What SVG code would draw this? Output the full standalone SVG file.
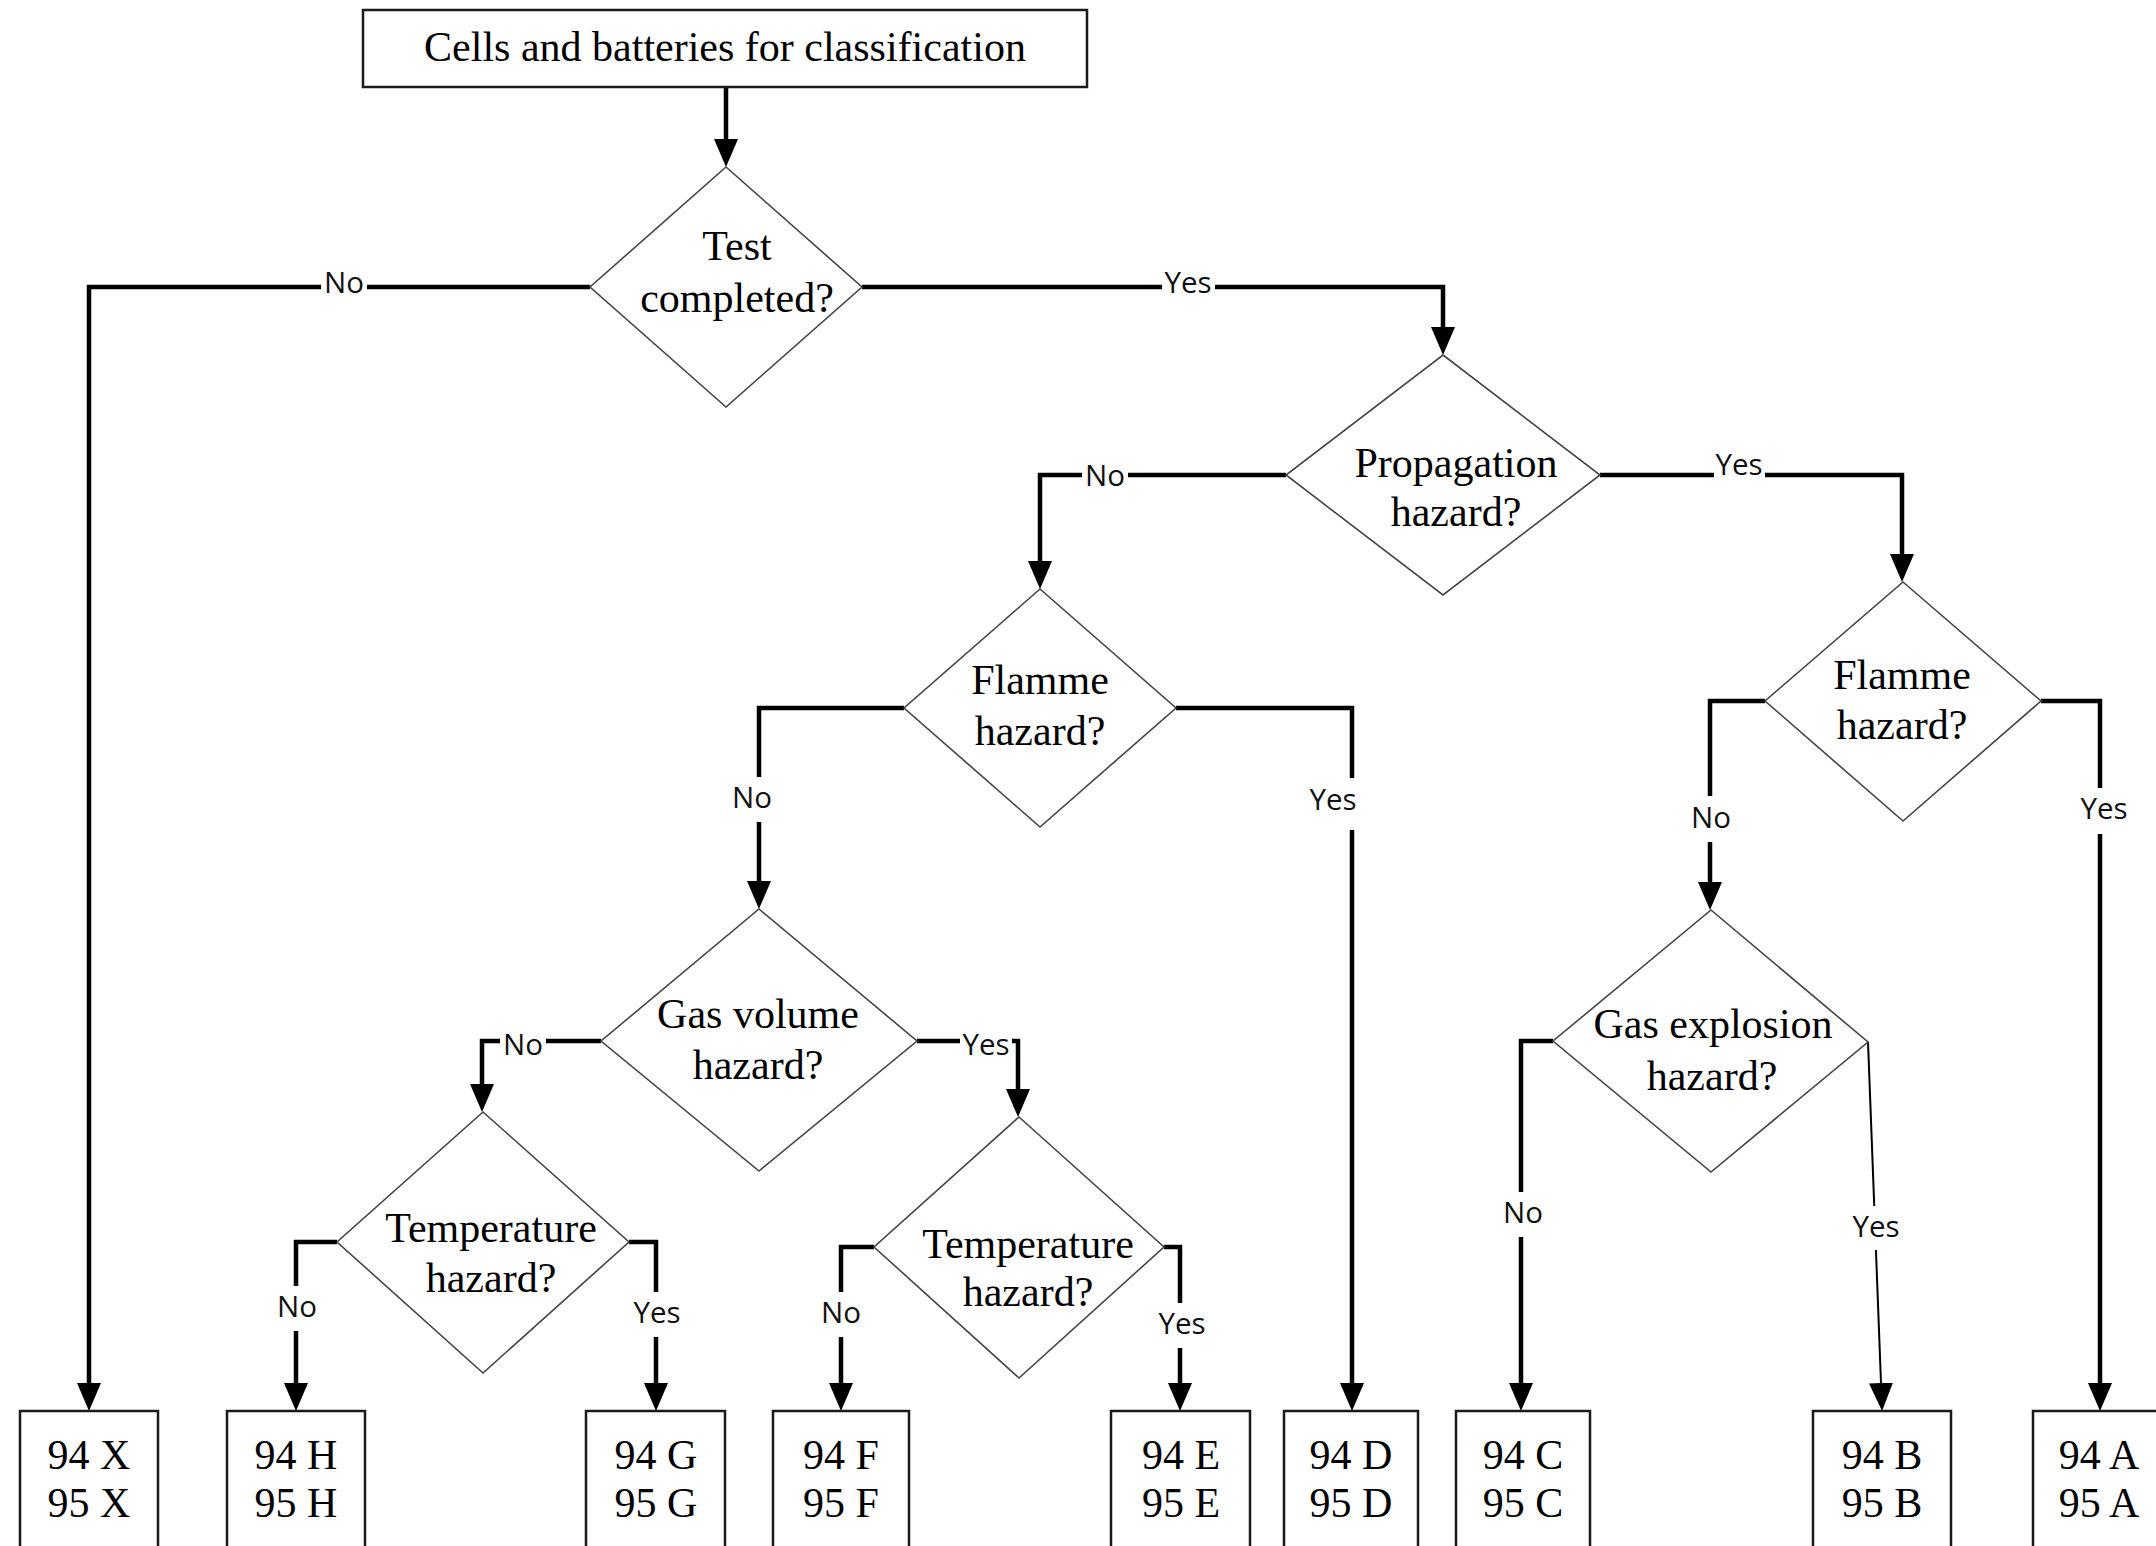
<svg xmlns="http://www.w3.org/2000/svg" width="2156" height="1546" viewBox="0 0 2156 1546">
<style>
.bg{fill:#fff}
.box{fill:#fff;stroke:#1a1a1a;stroke-width:2.5}
.dia{fill:#fff;stroke:#444;stroke-width:1.6}
.t{font-family:"Liberation Serif","Times New Roman",serif;font-size:42px;fill:#000;text-anchor:middle}
.c{fill:none;stroke:#000;stroke-width:4.5}
.thin{fill:none;stroke:#000;stroke-width:2}
.lb{fill:#fff}
.l{font-family:"Open Sans","Noto Sans",sans-serif;font-size:29.5px;fill:#111;text-anchor:middle}
</style>
<defs>
<marker id="ah" markerUnits="userSpaceOnUse" markerWidth="28" markerHeight="24" viewBox="0 0 28 24" refX="0" refY="12" orient="auto">
<path d="M0,0 L28,12 L0,24 z" fill="#000"/>
</marker>
</defs>
<rect class="bg" x="0" y="0" width="2156" height="1546"/>

<g id="connectors">
<path class="c" d="M726,87 V139" marker-end="url(#ah)"/>
<path class="c" d="M590,287 H89 V1383" marker-end="url(#ah)"/>
<path class="c" d="M862,287 H1443 V327" marker-end="url(#ah)"/>
<path class="c" d="M1286,475 H1040 V561" marker-end="url(#ah)"/>
<path class="c" d="M1600,475 H1902 V554" marker-end="url(#ah)"/>
<path class="c" d="M904,708 H759 V881" marker-end="url(#ah)"/>
<path class="c" d="M1176,708 H1352 V1383" marker-end="url(#ah)"/>
<path class="c" d="M1765,701 H1710 V882" marker-end="url(#ah)"/>
<path class="c" d="M2041,701 H2100 V1383" marker-end="url(#ah)"/>
<path class="c" d="M601,1041 H482 V1084" marker-end="url(#ah)"/>
<path class="c" d="M917,1041 H1018 V1089" marker-end="url(#ah)"/>
<path class="c" d="M1553,1041 H1521 V1383" marker-end="url(#ah)"/>
<path class="thin" d="M1868,1042 L1881,1383" marker-end="url(#ah)"/>
<path class="c" d="M337,1242 H296 V1383" marker-end="url(#ah)"/>
<path class="c" d="M629,1242 H656 V1383" marker-end="url(#ah)"/>
<path class="c" d="M874,1247 H841 V1383" marker-end="url(#ah)"/>
<path class="c" d="M1164,1247 H1180 V1383" marker-end="url(#ah)"/>

<g id="labels">
<rect class="lb" x="321" y="268" width="46" height="32"/><text class="l" x="344" y="293">No</text>
<rect class="lb" x="1162" y="268" width="53" height="32"/><text class="l" x="1188" y="293">Yes</text>
<rect class="lb" x="1082" y="458" width="46" height="32"/><text class="l" x="1105" y="486">No</text>
<rect class="lb" x="1714" y="449" width="51" height="30"/><text class="l" x="1739" y="475">Yes</text>
<rect class="lb" x="729" y="777" width="46" height="45"/><text class="l" x="752" y="808">No</text>
<rect class="lb" x="1307" y="778" width="53" height="52"/><text class="l" x="1333" y="810">Yes</text>
<rect class="lb" x="1688" y="796" width="46" height="46"/><text class="l" x="1711" y="828">No</text>
<rect class="lb" x="2078" y="788" width="53" height="46"/><text class="l" x="2104" y="819">Yes</text>
<rect class="lb" x="500" y="1027" width="46" height="32"/><text class="l" x="523" y="1055">No</text>
<rect class="lb" x="960" y="1027" width="52" height="32"/><text class="l" x="986" y="1055">Yes</text>
<rect class="lb" x="274" y="1286" width="46" height="45"/><text class="l" x="297" y="1317">No</text>
<rect class="lb" x="631" y="1292" width="53" height="45"/><text class="l" x="657" y="1323">Yes</text>
<rect class="lb" x="818" y="1292" width="46" height="45"/><text class="l" x="841" y="1323">No</text>
<rect class="lb" x="1156" y="1303" width="53" height="45"/><text class="l" x="1182" y="1334">Yes</text>
<rect class="lb" x="1500" y="1192" width="46" height="45"/><text class="l" x="1523" y="1223">No</text>
<rect class="lb" x="1850" y="1206" width="53" height="44"/><text class="l" x="1876" y="1237">Yes</text>
</g>
</g>

<g id="start"><rect class="box" x="363" y="10" width="724" height="77"/><text class="t" x="725" y="61">Cells and batteries for classification</text></g>

<g id="d1"><polygon class="dia" points="726,167 862,287 726,407 590,287"/><text class="t" x="737" y="260">Test</text><text class="t" x="737" y="312">completed?</text></g>
<g id="d2"><polygon class="dia" points="1443,355 1600,475 1443,595 1286,475"/><text class="t" x="1456" y="477">Propagation</text><text class="t" x="1456" y="526">hazard?</text></g>
<g id="d3"><polygon class="dia" points="1040,589 1176,708 1040,827 904,708"/><text class="t" x="1040" y="694">Flamme</text><text class="t" x="1040" y="745">hazard?</text></g>
<g id="d4"><polygon class="dia" points="1903,582 2041,701 1903,821 1765,701"/><text class="t" x="1902" y="689">Flamme</text><text class="t" x="1902" y="739">hazard?</text></g>
<g id="d5"><polygon class="dia" points="759,909 917,1041 759,1171 601,1041"/><text class="t" x="758" y="1028">Gas volume</text><text class="t" x="758" y="1079">hazard?</text></g>
<g id="d6"><polygon class="dia" points="1711,910 1868,1042 1711,1172 1553,1041"/><text class="t" x="1713" y="1038">Gas explosion</text><text class="t" x="1712" y="1090">hazard?</text></g>
<g id="d7"><polygon class="dia" points="483,1112 629,1242 483,1373 337,1242"/><text class="t" x="491" y="1242">Temperature</text><text class="t" x="491" y="1292">hazard?</text></g>
<g id="d8"><polygon class="dia" points="1019,1117 1164,1247 1019,1378 874,1247"/><text class="t" x="1028" y="1258">Temperature</text><text class="t" x="1028" y="1306">hazard?</text></g>

<g id="rX"><rect class="box" x="20" y="1411" width="138" height="160"/><text class="t" x="89" y="1469">94 X</text><text class="t" x="89" y="1517">95 X</text></g>
<g id="rH"><rect class="box" x="227" y="1411" width="138" height="160"/><text class="t" x="296" y="1469">94 H</text><text class="t" x="296" y="1517">95 H</text></g>
<g id="rG"><rect class="box" x="586" y="1411" width="139" height="160"/><text class="t" x="656" y="1469">94 G</text><text class="t" x="656" y="1517">95 G</text></g>
<g id="rF"><rect class="box" x="773" y="1411" width="136" height="160"/><text class="t" x="841" y="1469">94 F</text><text class="t" x="841" y="1517">95 F</text></g>
<g id="rE"><rect class="box" x="1111" y="1411" width="139" height="160"/><text class="t" x="1181" y="1469">94 E</text><text class="t" x="1181" y="1517">95 E</text></g>
<g id="rD"><rect class="box" x="1284" y="1411" width="134" height="160"/><text class="t" x="1351" y="1469">94 D</text><text class="t" x="1351" y="1517">95 D</text></g>
<g id="rC"><rect class="box" x="1456" y="1411" width="134" height="160"/><text class="t" x="1523" y="1469">94 C</text><text class="t" x="1523" y="1517">95 C</text></g>
<g id="rB"><rect class="box" x="1813" y="1411" width="138" height="160"/><text class="t" x="1882" y="1469">94 B</text><text class="t" x="1882" y="1517">95 B</text></g>
<g id="rA"><rect class="box" x="2033" y="1411" width="138" height="160"/><text class="t" x="2099" y="1469">94 A</text><text class="t" x="2099" y="1517">95 A</text></g>
</svg>
